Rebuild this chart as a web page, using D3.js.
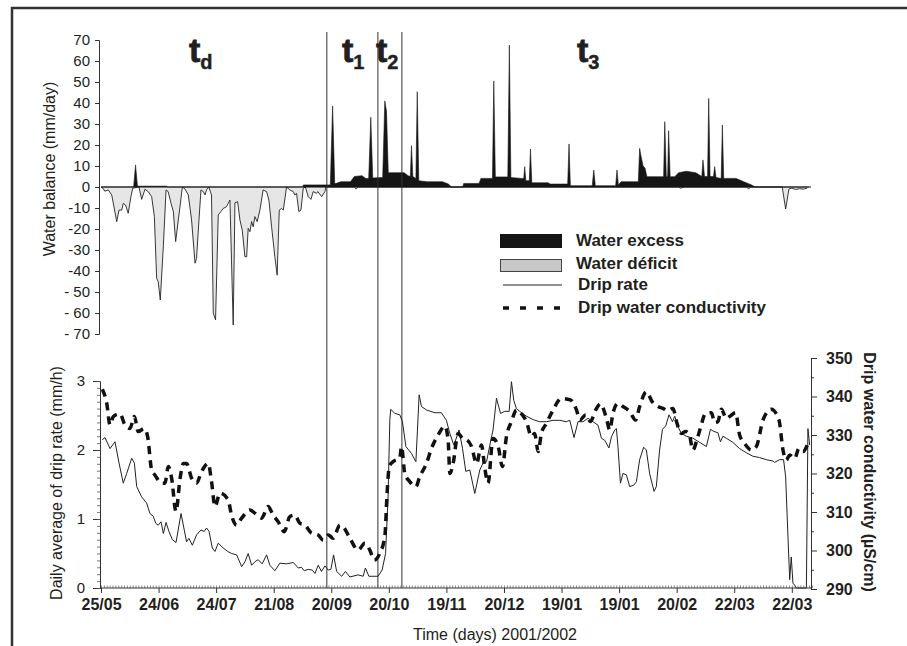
<!DOCTYPE html>
<html lang="en">
<head>
<meta charset="UTF-8">
<title>water balance and drip</title>
<script src="https://d3js.org/d3.v7.min.js"></script>
<style>
  body { margin: 0; background: #fff; }
  text { font-family: "Liberation Sans", Arial, sans-serif; fill: #231f20; }
</style>
</head>
<body>
<script>
// ---- data (day index from 25/05/2001) ----
var xTickLabels = ["25/05","24/06","24/07","21/08","20/09","20/10","19/11","20/12","19/01","19/01","20/02","22/03","22/03"];
var balanceTicks = [70,60,50,40,30,20,10,0,-10,-20,-30,-40,-50,-60,-70];
var balanceTickLabels = ["70","60","50","40","30","20","10","0","-10","-20","-30","-40","- 50","- 60","- 70"];
var periodDays = [117.7, 144.3, 156.8];
var periodNames = ["d","1","2","3"];

// water excess (mm/day)
var excess = [[0,0],[17,0],[18,10.5],[19,0.4],[34,0.4],[35,0],[105,0],[105.5,1],[119.5,1],[120.7,38.6],[121.8,1.5],
  [125,2.5],[130,2.5],[132,5],[136,5.4],[138,4],[139.5,4],[140.6,33.2],[141.6,4.3],[146.8,4.5],[147.9,41],[148.8,36],
  [149.7,6.8],[158,6.8],[160,5.4],[161.2,5],[161.8,19.7],[162.5,5],[164.1,4],[164.8,45.4],[165.6,3],[170,2.5],[178,2.5],
  [181,1.4],[182.6,0],[188.5,0],[189,1.7],[197,1.7],[198,4.1],[204,4.1],[204.7,50.5],[205.5,4.8],[212,4.8],[212.8,67.6],
  [213.6,4.5],[219,4.1],[220.3,4],[220.8,9.7],[221.4,3],[223.2,3],[223.8,18.1],[224.5,2],[233,2],[234,1.4],[243.2,1.4],
  [243.9,20.5],[244.6,0.6],[256,0.6],[256.8,8.1],[257.6,0.6],[268.2,0.6],[268.9,8.1],[269.6,1],[271,2.5],[280,2.5],
  [280.7,18.4],[281.4,14.8],[282.5,10],[283.5,9],[284.5,4.9],[293.2,4.9],[293.8,31.1],[294.6,5],[295.3,5],[295.8,26.8],
  [296.6,4.9],[299,4.9],[301,6.8],[305,7.5],[310,6.8],[313.1,5],[313.7,12.9],[314.5,5],[316.1,5],[316.7,42.2],[317.4,5],
  [319.2,5],[319.8,9.7],[320.5,4.5],[323.2,4.1],[323.8,29.5],[324.5,4.1],[331,4.1],[335,2.5],[339,1],[341,0],[370,0]];

// water deficit (mm/day)
var deficit = [[0,0],[1,-0.6],[2,-2],[3.8,-1.4],[5.6,-3.8],[8.2,-16.5],[9.4,-11],[10.8,-11],[11.6,-7.8],[12.8,-8.6],
  [14.2,-12.5],[15.6,-4.6],[16.5,-0.6],[19.8,0],[21.2,-5.9],[22.9,-1.1],[24.6,-2.2],[26.4,-4.6],[27.8,-14],[29,-43.5],
  [29.8,-45],[30.9,-53.8],[32.5,-28],[33.9,-1.4],[35,-2.2],[36.5,-7.8],[37.7,-11.7],[38.9,-26],[40.3,-15.7],[42.4,0],
  [43.8,-1],[45.5,-3.8],[47.2,-15.7],[49,-36.3],[49.8,-34],[51,-16.5],[52.1,-1.4],[53.3,-2.2],[54.2,-3.8],[55,-1.4],
  [56.2,0],[57.6,-3.8],[58.5,-60],[59.7,-63.3],[61.1,-13.3],[62.5,-11.7],[63.7,-10.2],[65.4,-9.4],[66.3,-7.8],[67.2,-6.2],
  [68,-34.8],[68.9,-65.7],[69.8,-7.5],[71.2,-7],[72.4,-15.7],[73.6,-20.5],[75,-33.2],[75.9,-33.2],[76.7,-19.7],
  [77.6,-21.3],[78.5,-16.5],[79.3,-18.9],[80.2,-14.1],[81.4,-16.5],[82.8,-11],[84.5,-1.4],[86.3,-2.2],[87.5,-6.2],
  [88.9,-18.9],[90.6,-33.2],[91.8,-42],[92.9,-11],[94.1,-10.2],[95,-11],[96.7,0],[98.4,-1.4],[100.2,-2.2],[101,-3.8],
  [101.9,-3],[103.1,-11.7],[104.2,-11],[105.4,-0.6],[106.5,0],[108,-4.6],[109.4,-5.9],[110.6,-2.2],[112.3,-3],[113,-2.2],
  [115,-4.6],[116.7,-2.2],[117.2,0],[132,0],[133,-1],[134,0],[301,0],[302,-0.6],[304,0],[336.5,0],[337.5,-1],[338.5,0],
  [355,0],[356.8,-10.5],[358.5,-1],[360,-0.5],[362,-1.2],[364,-0.8],[366,-1],[368,-0.6]];

// daily average drip rate (mm/h)
var dripRate = [[0.7,2.15],[2.1,2.18],[4.7,2.02],[7.3,2.12],[9.4,1.81],[11.6,1.52],[13.4,1.66],[16,1.88],[17.4,1.81],
  [18.6,1.47],[21.2,1.32],[23.8,1.23],[25.5,1.08],[27.2,1.04],[28.5,0.94],[29.8,0.91],[31.3,0.96],[32.5,0.79],[33.9,0.95],
  [35.4,0.82],[37.2,0.7],[39.1,0.66],[41.7,1.08],[43.4,0.84],[44.6,0.67],[45.8,0.72],[47.6,0.62],[49.8,0.77],[52.1,0.84],
  [53.8,0.82],[55,0.87],[56.3,0.82],[58,0.58],[59.4,0.53],[61.1,0.65],[63.7,0.58],[66,0.53],[68.1,0.5],[70.7,0.48],
  [73.3,0.31],[75,0.38],[76.7,0.5],[78.5,0.33],[80.2,0.38],[81.9,0.41],[84,0.35],[86.3,0.48],[88,0.33],[90.6,0.25],
  [93.2,0.36],[96.7,0.35],[100.2,0.37],[102.8,0.29],[104.5,0.3],[105.9,0.25],[108,0.27],[110.1,0.26],[111.5,0.21],
  [113.2,0.33],[114.9,0.24],[116.7,0.32],[118.4,0.26],[119.8,0.27],[121.2,0.48],[122.8,0.24],[125.4,0.17],[127.4,0.24],
  [129.7,0.16],[134,0.19],[136.6,0.17],[137.8,0.29],[139.6,0.17],[144.4,0.17],[146.5,0.26],[148.3,0.5],[149.6,1.32],
  [150.5,2.43],[151,2.59],[153.1,2.53],[155.7,2.51],[157.1,2.41],[158.9,2.05],[161.8,1.95],[164.1,1.83],[165.8,2.8],
  [167,2.63],[169.6,2.58],[174,2.54],[177.4,2.54],[180,2.43],[181.8,2.24],[183.9,2.07],[186.6,2.29],[188.4,2.02],
  [190.1,1.69],[192.2,1.71],[194.8,1.37],[197.4,1.71],[199.1,1.81],[200.9,1.83],[203.5,2.19],[204.3,2.29],[206.1,2.75],
  [208.2,2.53],[210.4,2.56],[212.7,2.56],[213.9,2.99],[215.1,2.72],[216.5,2.6],[218.2,2.56],[221.7,2.49],[225.2,2.44],
  [228.6,2.41],[232.1,2.41],[235.6,2.43],[239.1,2.43],[242.5,2.41],[244.3,2.43],[246.5,2.18],[248.6,2.41],[251.2,2.41],
  [253.8,2.46],[256.4,2.41],[259,2.36],[260.8,2.17],[262.5,2.14],[264.7,2.03],[266,2.19],[267.7,2.29],[268.6,2.31],
  [269.4,2.05],[270.7,1.52],[272,1.66],[273.8,1.64],[275.5,1.47],[277.6,1.49],[279,1.54],[280.7,1.86],[282.8,2.04],
  [284.2,2.0],[285.9,1.66],[288.2,1.4],[289.4,1.47],[291.1,2.0],[292.6,2.3],[294.3,2.35],[296,2.51],[297.8,2.41],
  [299,2.49],[300.7,2.34],[302.4,2.24],[305,2.2],[308.5,2.17],[312,2.11],[315.5,2.05],[317.6,2.3],[319.3,2.27],
  [321.5,2.25],[322.8,2.12],[324.1,2.2],[325.9,2.17],[329.3,2.11],[332.8,2.02],[336.3,1.96],[339.7,1.91],[343.2,1.89],
  [346.7,1.86],[350.2,1.84],[351,1.82],[353.6,1.86],[355.7,1.86],[356.8,1.61],[358,0.74],[358.9,0.12],[359.7,0.45],
  [360.6,0.07],[361.5,0.04],[362.3,0],[367.6,0],[368.4,2.31],[369.3,2.07]];

// drip water conductivity (uS/cm)
var conductivity = [[0.7,341.9],[3,338.2],[4.7,332.6],[6.4,334.8],[9.9,335.5],[12.5,332.6],[15.1,331.7],[17.4,334.8],
  [19.4,330.9],[22.6,331.7],[24.3,329.6],[26.4,320.9],[28.1,319.6],[31.6,317.5],[33.3,317.5],[35.1,321.8],[36.8,318.8],
  [39.1,310.1],[41.1,318.3],[42.9,322.6],[44.6,322.6],[47.2,318.8],[49.8,317.5],[52.4,320.5],[55.9,322.6],[57.6,317.9],
  [59.4,311.4],[62,314.9],[66.3,313.1],[68,309.2],[70.7,306.6],[73.3,308.4],[77.6,310.5],[80.2,309.7],[83.7,308.4],
  [87.1,311.4],[89.7,309.2],[92.3,307.5],[95.5,304.9],[98.4,308.8],[101,309.2],[103.6,307.1],[106.3,306.6],[109.7,304.5],
  [113.2,304],[115.8,302.7],[118.4,304],[121,303.2],[124.5,306.6],[126.2,306.2],[129.7,303.2],[134,300.1],[137.5,301.9],
  [140.1,300.1],[142.4,297.5],[145.3,299.3],[147.9,303.6],[149.1,314.9],[150.2,321.8],[152.3,323.1],[155.7,324],
  [156.6,327],[158.3,320],[160.9,317.9],[164.1,316.6],[166.1,319.2],[169.6,322.6],[172.2,326.5],[175.7,330],
  [179.2,332.3],[180.9,328.7],[181.8,320],[183.5,322.6],[186.1,330.4],[188.4,329.1],[190.8,328.7],[193.1,327],
  [195.7,322.6],[198.3,327.4],[200,321.4],[201.7,317.5],[204.3,329.1],[207,327],[209.2,321.8],[211.3,329.6],
  [213.9,333.5],[216.5,336.5],[219.6,335.2],[221.7,333.5],[224.3,329.6],[226,330.4],[227.8,325.7],[229.5,330.4],
  [232.1,333],[235.6,336.5],[239.9,339.5],[244.6,339.1],[247.8,336.5],[249.5,333.9],[252.6,335.2],[255,333.5],
  [257.8,336.5],[260.3,338.1],[263.4,334.3],[265.1,331.3],[266.8,335.6],[269.4,338.2],[272,337.4],[275.5,336.1],
  [278.6,333.9],[280.7,337.4],[284.2,341.2],[287.3,338.6],[290.3,337.4],[292.9,336.9],[295,336.3],[298.1,336.9],
  [299.9,333.5],[302.4,330.4],[304.7,330.9],[306.4,330.4],[308.5,326.1],[310.3,328.3],[312.3,331.7],[315.1,335.6],
  [318.1,335.8],[319.8,333.2],[321.5,333.5],[323.3,336.7],[325.9,334.3],[327.6,334.8],[330.7,335.8],[332.8,330],
  [335.4,327.8],[338.9,326.1],[341.5,327],[345,333.9],[349.3,336.7],[353.3,333.9],[355.4,326.1],[357.1,323.5],
  [358.9,324.8],[361.5,323.9],[363.7,326.5],[365.8,325.7],[368.4,327.8]];

var legendItems = ["Water excess","Water déficit","Drip rate","Drip water conductivity"];

// ---- drawing ----
var W = 907, H = 646;
var svg = d3.select("body").append("svg").attr("width", W).attr("height", H);

var x = d3.scaleLinear().domain([0, 370]).range([101, 811]);
var yTop = d3.scaleLinear().domain([-70, 70]).range([334, 40]);
var yRate = d3.scaleLinear().domain([0, 3]).range([588, 381]);
var yCond = d3.scaleLinear().domain([290, 350]).range([589, 358]);

// outer frame (top and left edges visible)
svg.append("path").attr("d", "M12,646 V8 H907").attr("fill", "none")
  .attr("stroke", "#333").attr("stroke-width", 2.5);

// ---- top panel: water balance ----
var areaTop = d3.area().x(d => x(d[0])).y0(yTop(0)).y1(d => yTop(d[1]));
var lineTop = d3.line().x(d => x(d[0])).y(d => yTop(d[1]));

svg.append("path").datum(deficit).attr("d", areaTop).attr("fill", "#e6e6e6");
svg.append("line").attr("x1", x(0)).attr("x2", x(369)).attr("y1", yTop(0)).attr("y2", yTop(0))
  .attr("stroke", "#555").attr("stroke-width", 1);
svg.append("path").datum(deficit).attr("d", lineTop).attr("fill", "none")
  .attr("stroke", "#222").attr("stroke-width", 0.9);
svg.append("path").datum(excess).attr("d", areaTop).attr("fill", "#151515")
  .attr("stroke", "#151515").attr("stroke-width", 0.6);

var axTop = svg.append("g").attr("transform", "translate(99,0)")
  .call(d3.axisLeft(yTop).tickValues(balanceTicks).tickSize(4).tickPadding(5)
    .tickFormat((d, i) => balanceTickLabels[i]));
axTop.select(".domain").attr("stroke", "#333");
axTop.selectAll(".tick line").attr("stroke", "#333");
axTop.selectAll("text").attr("font-size", 15).attr("fill", "#231f20")
  .attr("font-family", "Liberation Sans, Arial, sans-serif");

svg.append("text").attr("transform", "translate(55,169) rotate(-90)")
  .attr("text-anchor", "middle").attr("font-size", 16).text("Water balance (mm/day)");

// period separators
svg.selectAll(".sep").data(periodDays).enter().append("line")
  .attr("x1", d => x(d)).attr("x2", d => x(d)).attr("y1", 32).attr("y2", 588)
  .attr("stroke", "#333").attr("stroke-width", 1);

// period labels
var periodX = [189, 342, 376, 577];
periodNames.forEach(function (n, i) {
  var t = svg.append("text").attr("x", periodX[i]).attr("y", 62)
    .attr("font-size", 34).attr("font-weight", "bold").attr("stroke", "#231f20").attr("stroke-width", 0.8)
    .text("t");
  t.append("tspan").attr("dy", 7).attr("font-size", 20).attr("stroke-width", 0.4).text(n);
});

// legend
var lg = svg.append("g");
lg.append("rect").attr("x", 500).attr("y", 234).attr("width", 62).attr("height", 14).attr("fill", "#151515");
lg.append("rect").attr("x", 500.5).attr("y", 259.5).attr("width", 61).attr("height", 12)
  .attr("fill", "#c8c8c8").attr("stroke", "#444").attr("stroke-width", 1);
lg.append("line").attr("x1", 503).attr("x2", 562).attr("y1", 285).attr("y2", 285)
  .attr("stroke", "#222").attr("stroke-width", 1);
lg.append("line").attr("x1", 503).attr("x2", 562).attr("y1", 308).attr("y2", 308)
  .attr("stroke", "#111").attr("stroke-width", 3.5).attr("stroke-dasharray", "6,11");
lg.selectAll("text").data(legendItems).enter().append("text")
  .attr("x", (d, i) => i < 2 ? 576 : 578).attr("y", (d, i) => [246, 269, 290, 313][i])
  .attr("font-size", 17).attr("font-weight", "bold").text(d => d);

// ---- bottom panel: drip rate and conductivity ----
var lineRate = d3.line().x(d => x(d[0])).y(d => yRate(d[1]));
var lineCond = d3.line().curve(d3.curveMonotoneX).x(d => x(d[0])).y(d => yCond(d[1]));

svg.append("path").datum(dripRate).attr("d", lineRate).attr("fill", "none")
  .attr("stroke", "#222").attr("stroke-width", 1);
svg.append("path").datum(conductivity).attr("d", lineCond).attr("fill", "none")
  .attr("stroke", "#111").attr("stroke-width", 3.5).attr("stroke-dasharray", "8,6");

// x axis
var axX = svg.append("g").attr("transform", "translate(0,588)");
axX.call(d3.axisBottom(x).tickValues(d3.range(0, 361, 30)).tickSize(5).tickPadding(6)
  .tickFormat((d, i) => xTickLabels[i]));
axX.select(".domain").attr("stroke", "#333").attr("d", "M100,0H811");
axX.selectAll(".tick line").attr("stroke", "#333");
axX.selectAll("text").attr("font-size", 16).attr("font-weight", "bold").attr("fill", "#231f20")
  .attr("font-family", "Liberation Sans, Arial, sans-serif");
var axXm = svg.append("g").attr("transform", "translate(0,588)")
  .call(d3.axisTop(x).tickValues(d3.range(0, 371, 1.5)).tickSize(2.5).tickFormat(""));
axXm.select(".domain").remove();
axXm.selectAll(".tick line").attr("stroke", "#555").attr("stroke-width", 0.7);

// left axis
var axL = svg.append("g").attr("transform", "translate(100,0)")
  .call(d3.axisLeft(yRate).tickValues([0, 1, 2, 3]).tickSize(7).tickPadding(8).tickFormat(d3.format("d")));
axL.select(".domain").attr("stroke", "#333");
axL.selectAll(".tick line").attr("stroke", "#333");
axL.selectAll("text").attr("font-size", 15).attr("fill", "#231f20")
  .attr("font-family", "Liberation Sans, Arial, sans-serif");
var axLm = svg.append("g").attr("transform", "translate(100,0)")
  .call(d3.axisLeft(yRate).tickValues(d3.range(0, 3.001, 0.1)).tickSize(3).tickFormat(""));
axLm.select(".domain").remove();
axLm.selectAll(".tick line").attr("stroke", "#555").attr("stroke-width", 0.8);

svg.append("text").attr("transform", "translate(62,483) rotate(-90)")
  .attr("text-anchor", "middle").attr("font-size", 16).text("Daily average of drip rate (mm/h)");

// right axis
var axR = svg.append("g").attr("transform", "translate(811,0)")
  .call(d3.axisRight(yCond).tickValues(d3.range(290, 351, 10)).tickSize(6).tickPadding(9));
axR.select(".domain").attr("stroke", "#333");
axR.selectAll(".tick line").attr("stroke", "#333");
axR.selectAll("text").attr("font-size", 16).attr("font-weight", "bold").attr("fill", "#231f20")
  .attr("font-family", "Liberation Sans, Arial, sans-serif");
var axRm = svg.append("g").attr("transform", "translate(811,0)")
  .call(d3.axisRight(yCond).tickValues(d3.range(295, 350, 10)).tickSize(3).tickFormat(""));
axRm.select(".domain").remove();
axRm.selectAll(".tick line").attr("stroke", "#333");

svg.append("text").attr("transform", "translate(864,472) rotate(90)")
  .attr("text-anchor", "middle").attr("font-size", 16).attr("font-weight", "bold")
  .text("Drip water conductivity  (µS/cm)");

svg.append("text").attr("x", 495).attr("y", 640).attr("text-anchor", "middle")
  .attr("font-size", 16).text("Time (days) 2001/2002");
</script>
</body>
</html>
